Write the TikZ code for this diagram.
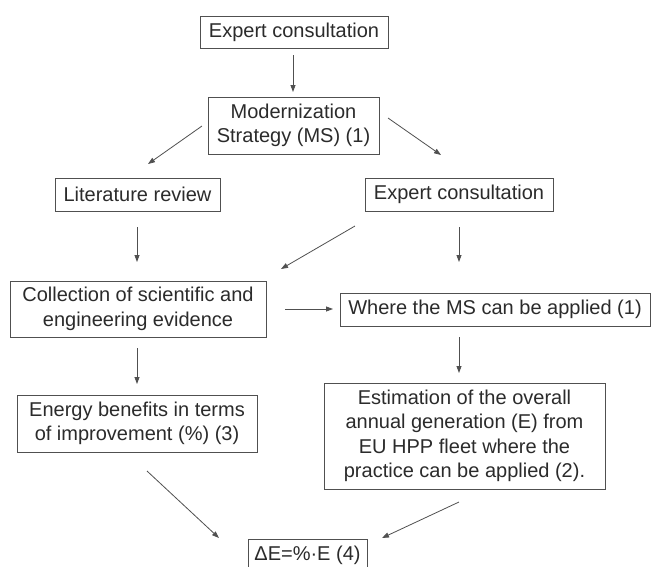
\documentclass[tikz,border=0pt]{standalone}
\usepackage{fontspec}
\setmainfont{Liberation Sans}
\usetikzlibrary{arrows.meta}
\definecolor{txt}{HTML}{2B2B2B}
\definecolor{ln}{HTML}{505050}
\begin{document}
\begin{tikzpicture}[x=1pt,y=-1pt,
  box/.style={draw=ln, line width=1pt, text=txt, align=center, inner sep=0pt,
    font=\fontsize{20}{24.5}\selectfont},
  arr/.style={draw=ln, line width=0.8pt, -{Triangle[length=7pt,width=5pt]}}]
\useasboundingbox (0,0) rectangle (651,566);
\fill[white] (0,0) rectangle (651,566);
% boxes
\node[box, minimum width=188pt, minimum height=32pt] (e1) at (294,32) {Expert consultation};
\node[box, minimum width=171pt, minimum height=57pt] (ms) at (293.5,125.5) {Modernization\\Strategy (MS) (1)};
\node[box, minimum width=165pt, minimum height=33pt] (lit) at (137.5,194.5) {Literature review};
\node[box, minimum width=188pt, minimum height=33pt] (e2) at (459,194.5) {Expert consultation};
\node[box, minimum width=256pt, minimum height=56pt] (coll) at (138,309) {Collection of scientific and\\engineering evidence};
\node[box, minimum width=310pt, minimum height=33pt] (where) at (495,309.5) {Where the MS can be applied (1)};
\node[box, minimum width=240pt, minimum height=57pt] (en) at (137,423.5) {Energy benefits in terms\\of improvement (\%) (3)};
\node[box, minimum width=281pt, minimum height=106pt] (est) at (464.5,436) {Estimation of the overall\\annual generation (E) from\\EU HPP fleet where the\\practice can be applied (2).};
\node[box, minimum width=119pt, minimum height=33pt] (de) at (307.5,555.5) {ΔE=\%·E (4)};
% connector end points
\coordinate (a1s) at (293,55);  \coordinate (a1e) at (293,92);
\coordinate (a2s) at (202,126); \coordinate (a2e) at (148,164);
\coordinate (a3s) at (388,118); \coordinate (a3e) at (441,155);
\coordinate (a4s) at (137,227); \coordinate (a4e) at (137,262);
\coordinate (a5s) at (355,226); \coordinate (a5e) at (281,269);
\coordinate (a6s) at (459,227); \coordinate (a6e) at (459,262);
\coordinate (a7s) at (285,309); \coordinate (a7e) at (333,309);
\coordinate (a8s) at (137,348); \coordinate (a8e) at (137,384);
\coordinate (a9s) at (459,337); \coordinate (a9e) at (459,373);
\coordinate (a10s) at (147,471); \coordinate (a10e) at (219,538);
\coordinate (a11s) at (459,502); \coordinate (a11e) at (382,538);
\foreach \i in {1,...,11} { \draw[arr] (a\i s) -- (a\i e); }
\end{tikzpicture}
\end{document}
